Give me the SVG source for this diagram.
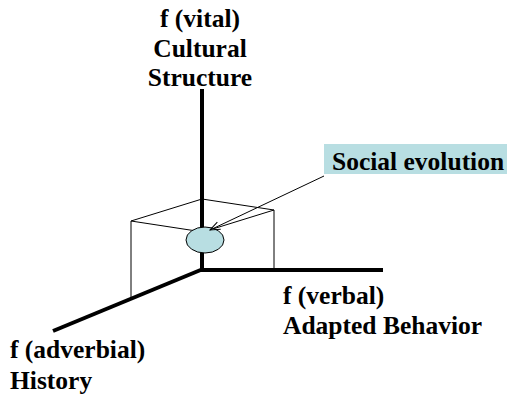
<svg xmlns="http://www.w3.org/2000/svg" width="508" height="397" viewBox="0 0 508 397">
<defs>
<style>
.t{font-family:"Liberation Serif","Times New Roman",serif;font-weight:bold;font-size:25.5px;fill:#000}
.axis{stroke:#000;stroke-width:4;fill:none;stroke-linecap:butt}
.thin{stroke:#000;stroke-width:1;fill:none}
.fillb{fill:#b8dee2}
</style>
<marker id="arr" markerWidth="12" markerHeight="10" refX="11" refY="5" orient="auto" markerUnits="userSpaceOnUse">
<path d="M1,1 L11,5 L1,9" fill="none" stroke="#000" stroke-width="1"/>
</marker>
</defs>
<rect width="508" height="397" fill="#fff"/>
<g id="connectors">
<line class="axis" x1="202" y1="89" x2="202" y2="271"/>
<line class="axis" x1="200" y1="270" x2="383" y2="270"/>
<line class="axis" x1="203" y1="269" x2="53" y2="331"/>
<polyline class="thin" points="131,298 131,221 202,199 274,210 274,270"/>
<line class="thin" x1="131" y1="221" x2="203" y2="232"/>
<line class="thin" x1="274" y1="210" x2="203" y2="232"/>
</g>
<g id="social-evolution-point">
<ellipse class="fillb" cx="205" cy="240" rx="19" ry="13" stroke="#000" stroke-width="1"/>
</g>
<g id="social-evolution-label">
<rect class="fillb" x="324" y="144" width="183" height="30"/>
<text class="t" x="332" y="170">Social evolution</text>
</g>
<g id="label-arrow">
<line class="thin" x1="324" y1="176" x2="210" y2="230" marker-end="url(#arr)"/>
</g>
<g id="vital">
<text class="t" text-anchor="middle" x="200" y="27">f (vital)</text>
<text class="t" text-anchor="middle" x="200" y="57">Cultural</text>
<text class="t" text-anchor="middle" x="200" y="86">Structure</text>
</g>
<g id="verbal">
<text class="t" x="283" y="304">f (verbal)</text>
<text class="t" x="283" y="334">Adapted Behavior</text>
</g>
<g id="adverbial">
<text class="t" x="10" y="358">f (adverbial)</text>
<text class="t" x="10" y="389">History</text>
</g>
</svg>
